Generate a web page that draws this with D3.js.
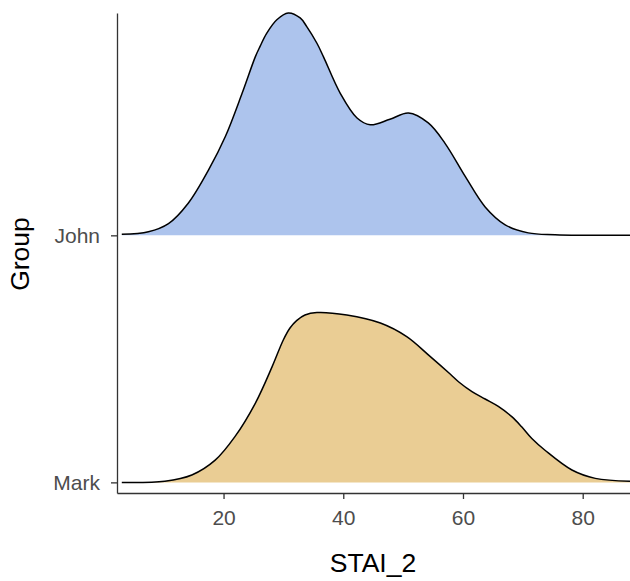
<!DOCTYPE html>
<html>
<head>
<meta charset="utf-8">
<script src="https://cdn.jsdelivr.net/npm/d3@7"></script>
<style>
  body { margin: 0; background: #fff; }
  svg { font-family: "Liberation Sans", Arial, sans-serif; }
</style>
</head>
<body>
<div id="ridgeChart"></div>
<script>
// groups, bottom to top
var groups = ["Mark", "John"];
var groupColors = ["#EACD94", "#ADC4ED"];

// estimated density curves (STAI_2 value, density)
var johnX = [3.0, 7.45, 10.8, 14.1, 17.5, 20.3, 23.1, 25.3, 26.1, 27.2, 28.9, 30.8, 32.8, 33.9, 35.6, 36.7, 39.5, 42.3, 44.5, 47.8, 50.9, 54.2, 57.0, 60.4, 63.7, 67.05, 70.9, 75.4, 87.9];
var johnD = [0.00016, 0.00058, 0.0019, 0.0052, 0.0106, 0.0160, 0.0230, 0.0289, 0.0306, 0.0327, 0.0349, 0.0360, 0.0352, 0.0338, 0.0311, 0.0289, 0.0230, 0.0190, 0.0179, 0.0188, 0.0198, 0.0182, 0.0149, 0.0095, 0.0046, 0.0017, 0.0004, 0.0001, 0];
var markX = [3.0, 10.2, 14.7, 18.6, 21.9, 25.3, 28.1, 30.0, 31.1, 32.2, 33.6, 35.6, 40.6, 46.2, 50.6, 54.5, 57.9, 59.25, 61.5, 63.7, 65.9, 68.2, 69.8, 71.5, 73.7, 78.2, 82.1, 87.9];
var markD = [0, 0.0002, 0.0012, 0.0036, 0.0074, 0.0128, 0.0187, 0.0231, 0.0250, 0.0262, 0.0271, 0.0275, 0.0271, 0.0258, 0.0236, 0.0204, 0.0175, 0.0163, 0.0147, 0.0135, 0.0123, 0.0106, 0.0090, 0.0071, 0.0052, 0.0020, 0.00065, 0.0002];

var xTicks = [20, 40, 60, 80];

var width = 630, height = 581;
var mLeft = 117, mRight = 630, mTop = 13, mBottom = 493;

var svg = d3.select("#ridgeChart")
    .append("svg")
    .attr("width", width)
    .attr("height", height);

const x = d3.scaleLinear()
    .domain([2.2, 87.9])
    .range([mLeft, mRight]);

// group index on y; ridges are scaled so the tallest reaches 0.9 of a step
const y = d3.scaleLinear()
    .domain([0.957, 2.9])
    .range([mBottom, mTop]);

var ridgeScale = 0.9;
var maxD = d3.max(johnD.concat(markD));

var series = [
    { name: "Mark", idx: 1, pts: markX.map(function (v, i) { return [v, markD[i]]; }) },
    { name: "John", idx: 2, pts: johnX.map(function (v, i) { return [v, johnD[i]]; }) }
];

var smooth = d3.curveCatmullRom.alpha(0.5);

// draw top group first so the lower ridge overlaps it
series.slice().reverse().forEach(function (s) {
    var g = svg.append("g");
    var area = d3.area()
        .curve(smooth)
        .x(function (d) { return x(d[0]); })
        .y0(y(s.idx))
        .y1(function (d) { return y(s.idx + d[1] / maxD * ridgeScale); });
    var line = d3.line()
        .curve(smooth)
        .x(function (d) { return x(d[0]); })
        .y(function (d) { return y(s.idx + d[1] / maxD * ridgeScale); });
    g.append("path")
        .attr("d", area(s.pts))
        .attr("fill", groupColors[groups.indexOf(s.name)]);
    g.append("path")
        .attr("d", line(s.pts))
        .attr("fill", "none")
        .attr("stroke", "#000")
        .attr("stroke-width", 1.5);
});

// X axis
var xAxis = svg.append("g")
    .attr("transform", `translate(0, ${mBottom})`)
    .call(d3.axisBottom(x).tickValues(xTicks).tickSize(6).tickPadding(11).tickSizeOuter(0));
xAxis.select(".domain").attr("stroke", "#333").attr("stroke-width", 1.3);
xAxis.selectAll(".tick line").attr("stroke", "#333").attr("stroke-width", 1.3);
xAxis.selectAll(".tick text")
    .attr("fill", "#4D4D4D")
    .style("font-size", "21px");

// Y axis
var yAxis = svg.append("g")
    .attr("transform", `translate(${mLeft}, 0)`)
    .call(d3.axisLeft(y).tickValues([1, 2]).tickFormat(function (d) { return groups[d - 1]; })
        .tickSize(6).tickPadding(11).tickSizeOuter(0));
yAxis.select(".domain").attr("stroke", "#333").attr("stroke-width", 1.3);
yAxis.selectAll(".tick line").attr("stroke", "#333").attr("stroke-width", 1.3);
yAxis.selectAll(".tick text")
    .attr("fill", "#4D4D4D")
    .style("font-size", "21px");

// axis titles
svg.append("text")
    .attr("x", 373)
    .attr("y", 572)
    .attr("text-anchor", "middle")
    .style("font-size", "26.5px")
    .attr("fill", "#000")
    .text("STAI_2");

svg.append("text")
    .attr("transform", "translate(29, 254) rotate(-90)")
    .attr("text-anchor", "middle")
    .style("font-size", "26.5px")
    .attr("fill", "#000")
    .text("Group");
</script>
</body>
</html>
